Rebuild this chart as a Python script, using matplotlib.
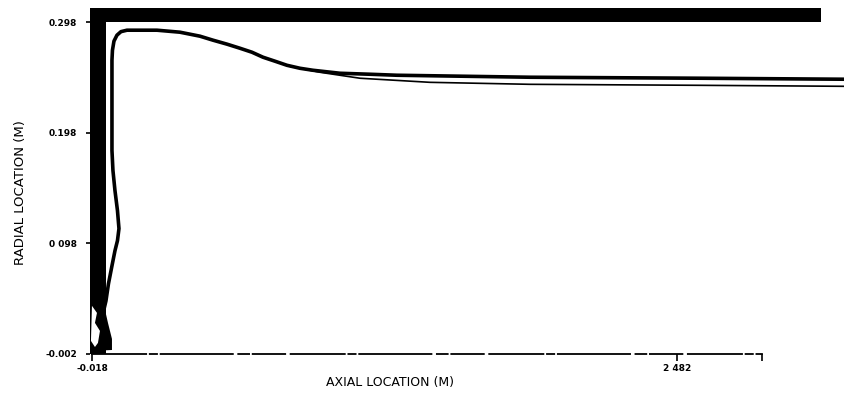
import numpy as np
import matplotlib
matplotlib.use("Agg")
import matplotlib.pyplot as plt

# tick values (m)
x_ticks = [-0.018, 2.482]
y_ticks = [-0.002, 0.098, 0.198, 0.298]
y_tick_labels = ["-0.002", "0 098", "0.198", "0.298"]
x_tick_labels = ["-0.018", "2 482"]

# solid walls (m)
wall_x = [-0.0265, 0.042]
wall_top = [0.2979, 0.3106]
wall_top_end = 3.097

# outer boundary curve
bound_x = [0.029, 0.0247, 0.0418, 0.0525, 0.0675, 0.0803, 0.091, 0.0974, 0.091,
           0.0803, 0.0717, 0.0675, 0.0675, 0.0675, 0.0696, 0.076, 0.0888, 0.106,
           0.1316, 0.2598, 0.358, 0.4435, 0.499, 0.559, 0.6145, 0.6658, 0.7128,
           0.764, 0.8153, 0.8709, 0.9264, 1.042, 1.1701, 1.2854, 1.8538, 2.5803,
           3.1956]
bound_y = [0.0052, 0.0306, 0.046, 0.0614, 0.0777, 0.0913, 0.1004, 0.1113, 0.1276,
           0.1457, 0.1638, 0.1819, 0.2272, 0.2635, 0.2725, 0.2807, 0.2861, 0.2893,
           0.2906, 0.2906, 0.2888, 0.2852, 0.2816, 0.2780, 0.2743, 0.2707, 0.2662,
           0.2626, 0.2589, 0.2562, 0.2544, 0.2517, 0.2508, 0.2499, 0.2481, 0.2472,
           0.2463]

# second (thin) line downstream
thin_x = [0.828, 0.956, 1.127, 1.4264, 1.8538, 2.5803, 3.1956]
thin_y = [0.258, 0.2526, 0.2472, 0.2435, 0.2417, 0.2408, 0.2399]

# dark lobe at base of wall and the pale hole inside it
lobe_x = [-0.018, 0.029, 0.0504, 0.0675, 0.0675, -0.018]
lobe_y = [0.046, 0.046, 0.0261, 0.0116, 0.0016, 0.0007]
hole_x = [-0.018, 0.0034, -0.0052, 0.0162, 0.0076, -0.0052, -0.0223]
hole_y = [0.0415, 0.0351, 0.0261, 0.0188, 0.008, 0.0043, 0.0098]

fig = plt.figure(figsize=(8.44, 3.94), dpi=100)
ax = fig.add_axes([0.1066, 0.1016, 0.8934, 0.8984])
ax.set_xlim(-0.0265, 3.196)
ax.set_ylim(-0.002, 0.3179)

# walls
ax.fill_between(wall_x, -0.002, wall_top[1], color="black", lw=0)
ax.fill_between([wall_x[0], wall_top_end], wall_top[0], wall_top[1], color="black", lw=0)
ax.fill(lobe_x, lobe_y, color="black", lw=0)
ax.fill(hole_x, hole_y, color="white", lw=0)

ax.plot(bound_x, bound_y, color="black", lw=2.6, solid_joinstyle="round")
ax.plot(thin_x, thin_y, color="black", lw=1.2)

for s in ["top", "right", "left"]:
    ax.spines[s].set_visible(False)
ax.spines["bottom"].set_bounds(-0.018, 2.845)
ax.spines["bottom"].set_linewidth(1.3)
ax.spines["bottom"].set_linestyle((0, (30, 2, 4, 2, 40, 3, 6, 2, 18, 3)))

ax.set_xticks(x_ticks + [2.845])
ax.set_xticklabels(x_tick_labels + [""], fontsize=6.5, fontweight="bold")
ax.set_yticks(y_ticks)
ax.set_yticklabels(y_tick_labels, fontsize=6.5, fontweight="bold")
ax.tick_params(axis="x", direction="out", length=5, width=1.2, pad=2)
ax.tick_params(axis="y", direction="out", length=3, width=1.2, pad=6)

ax.set_xlabel("AXIAL LOCATION (M)", fontsize=9)
ax.xaxis.set_label_coords(0.398, -0.062)
ax.set_ylabel("RADIAL LOCATION (M)", fontsize=9.5)
ax.yaxis.set_label_coords(-0.083, 0.456)

fig.savefig("out.png", dpi=100)
